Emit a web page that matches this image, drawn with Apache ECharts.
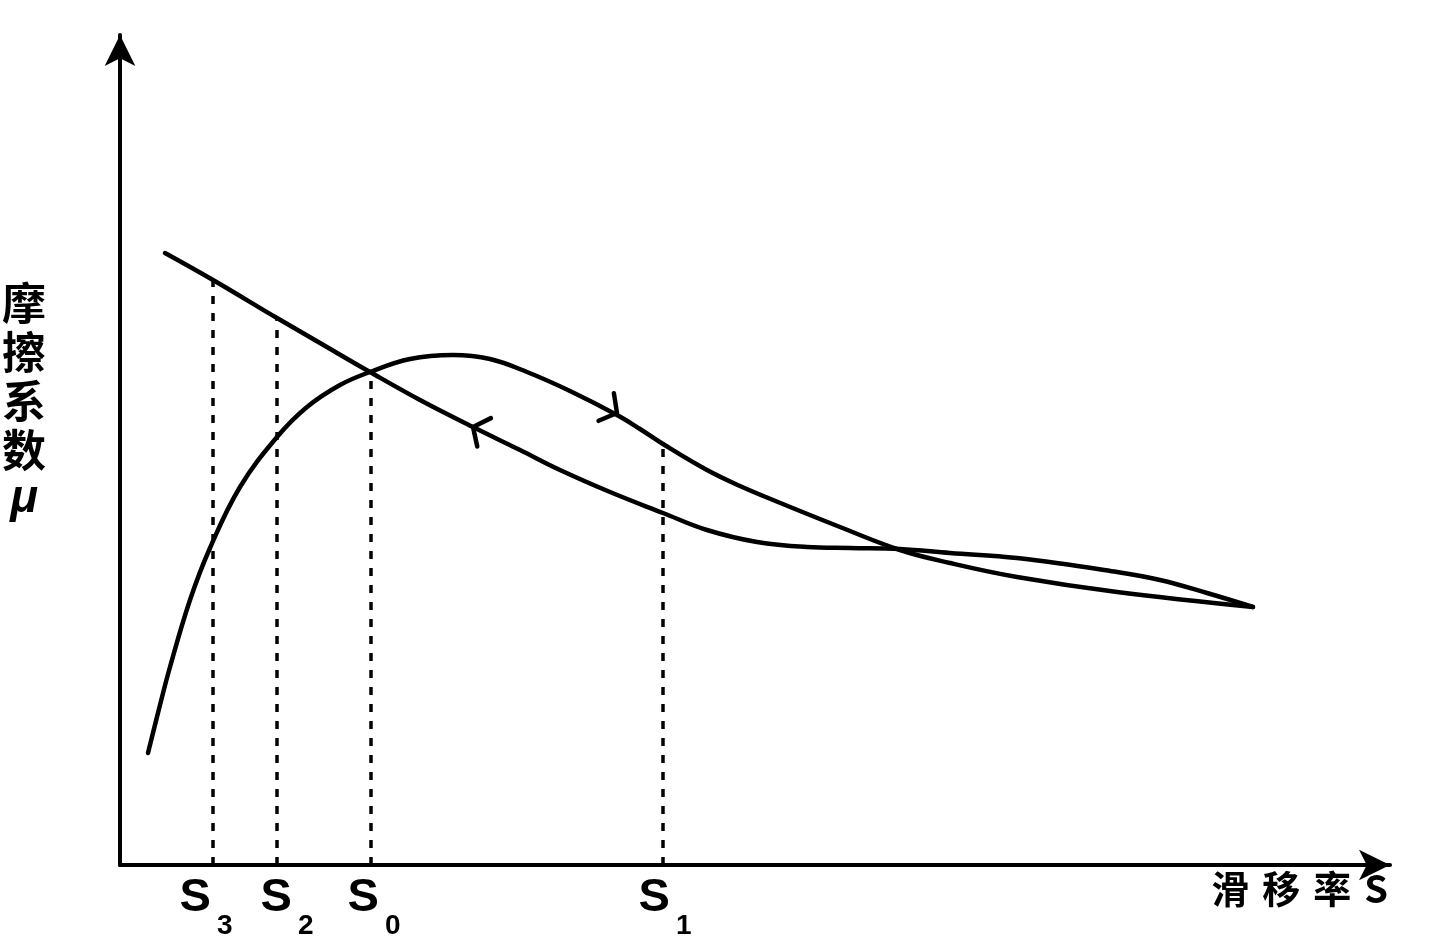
<!DOCTYPE html>
<html><head><meta charset="utf-8">
<script src="https://cdn.jsdelivr.net/npm/echarts@6/dist/echarts.min.js"></script>
<style>html,body{margin:0;padding:0;background:#fff}#c{width:1434px;height:937px}</style>
</head><body><div id="c"></div>
<script>
// Rising-then-falling curve (slip rate vs friction coefficient)
const curveRise = [[28,112],[40,160],[50,198],[70,265],[90,317],[120,378],[157,428],[187,458],[220,480],[250,493],[290,506],[333,510],[370,506],[407,493],[450,474],[497,450],[520,436],[543,421],[587,395],[620,379],[653,365],[720,338],[780,315],[830,302],[897,288],[997,273],[1133,258]];
// Falling curve
const curveFall = [[45,612],[93,585],[157,547],[200,522],[250,493],[300,465],[353,438],[400,415],[440,395],[490,373],[543,352],[587,335],[637,323],[687,318],[730,317],[780,316],[830,312],[897,307],[997,293],[1040,285],[1087,272],[1133,258]];
// Dashed verticals: x and top
const dashX = [93, 157, 251, 543];
const dashTop = [585, 547, 493, 421];
// Tick labels
const tickPos = [86, 167, 254, 545];
const tickSub = ['3', '2', '0', '1'];
// Direction arrows on curves: tip x, tip y, back x, back y
const arrowMarks = [[497,452,470,467],[353,438,380,425]];

const chart = echarts.init(document.getElementById('c'));
const series = [];
dashX.forEach((x, i) => {
  series.push({type:'line', data:[[x,0],[x,dashTop[i]]], symbol:'none', silent:true,
    lineStyle:{color:'#000', width:3.5, type:[8,9]}, z:1});
});
series.push({type:'line', data:curveRise, smooth:0.4, symbol:'none', lineStyle:{color:'#000', width:4.5, cap:'round'}, z:3});
series.push({type:'line', data:curveFall, smooth:0.4, symbol:'none', lineStyle:{color:'#000', width:4.5, cap:'round'}, z:3});
series.push({type:'custom', data:arrowMarks, encode:{x:[0,2], y:[1,3]}, z:4,
  renderItem:function(params, api){
    const p = api.coord([api.value(0), api.value(1)]);
    const q = api.coord([api.value(2), api.value(3)]);
    let dx = p[0]-q[0], dy = p[1]-q[1];
    const len = Math.sqrt(dx*dx+dy*dy); dx/=len; dy/=len;
    const L = 20, a = 52*Math.PI/180;
    const bx = -dx, by = -dy;
    const r1 = [p[0] + L*(bx*Math.cos(a) - by*Math.sin(a)), p[1] + L*(bx*Math.sin(a) + by*Math.cos(a))];
    const r2 = [p[0] + L*(bx*Math.cos(-a) - by*Math.sin(-a)), p[1] + L*(bx*Math.sin(-a) + by*Math.cos(-a))];
    return {type:'polyline', shape:{points:[r1, p, r2]}, style:{stroke:'#000', lineWidth:4.5, fill:null, lineCap:'round', lineJoin:'round'}};
  }});

const latin = "'Liberation Sans Narrow','Liberation Sans',Arial,sans-serif";
chart.setOption({
  animation:false,
  backgroundColor:'#fff',
  grid:{left:120, top:35, right:44, bottom:72, containLabel:false, outerBoundsMode:'none'},
  xAxis:{type:'value', min:0, max:1270,
    name:'{c|滑}{c|移}{c|率}{s|S}', nameLocation:'end', nameGap:-2,
    nameTextStyle:{fontFamily:'Noto Sans CJK SC', fontSize:38, fontWeight:'bold', color:'#000', align:'right', verticalAlign:'top', padding:[5,0,0,0],
      rich:{c:{fontFamily:'Noto Sans CJK SC', fontSize:38, fontWeight:'bold', color:'#000', padding:[0,13,0,0]},
            s:{fontFamily:'Noto Sans CJK SC', fontSize:38, fontWeight:'bold', color:'#000'}}},
    axisLine:{show:true, onZero:false, symbol:['none','arrow'], symbolSize:[23,31], lineStyle:{color:'#000', width:4}},
    axisTick:{show:false}, splitLine:{show:false},
    axisLabel:{show:true, customValues:tickPos, margin:27, color:'#000',
      formatter:function(v){ const i = tickPos.indexOf(v); return '{s|S}{sub|' + tickSub[i] + '}'; },
      rich:{
        s:{fontFamily:latin, fontWeight:'bold', fontSize:47, lineHeight:42, padding:[0,0,30,0], color:'#000'},
        sub:{fontFamily:latin, fontWeight:'bold', fontSize:28, lineHeight:26, padding:[27,0,0,6], color:'#000'}
      }}
  },
  yAxis:{type:'value', min:0, max:830,
    name:'摩\n擦\n系\n数\n{mu|μ}', nameLocation:'middle', nameRotate:0, nameGap:96,
    nameTextStyle:{fontFamily:'Noto Sans CJK SC', fontSize:44, fontWeight:'bold', lineHeight:49, color:'#000', align:'center', padding:[0,0,98,0],
      rich:{mu:{fontFamily:"'Liberation Sans',Arial,sans-serif", fontStyle:'italic', fontWeight:'bold', fontSize:46, lineHeight:49, color:'#000'}}},
    axisLine:{show:true, onZero:false, symbol:['none','arrow'], symbolSize:[23,31], lineStyle:{color:'#000', width:4}},
    axisTick:{show:false}, splitLine:{show:false}, axisLabel:{show:false}
  },
  series:series
});
</script>
</body></html>
